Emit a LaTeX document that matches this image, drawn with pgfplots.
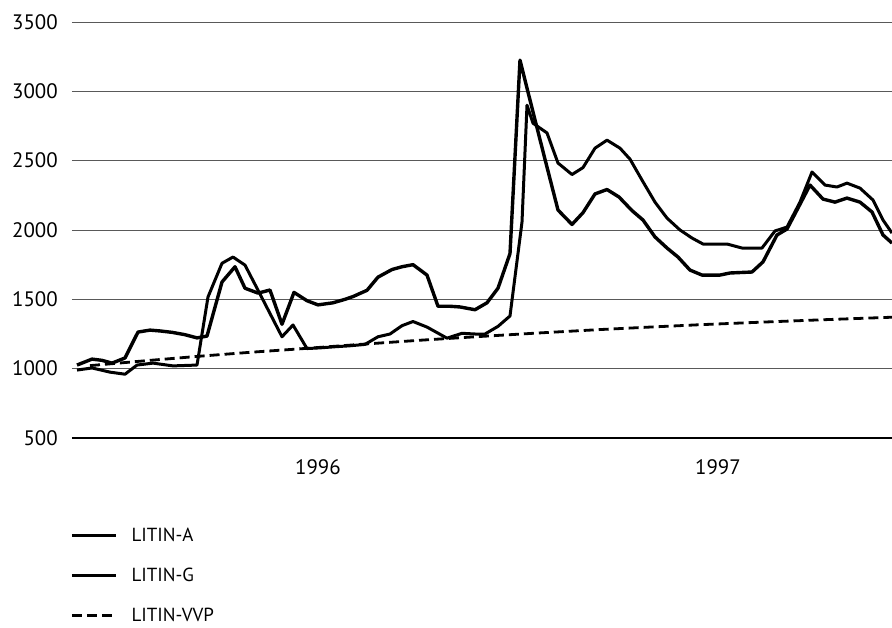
\documentclass[border=0pt]{standalone}
\usepackage{fontspec}
\setmainfont{PT Sans}
\usepackage{pgfplots}
\pgfplotsset{compat=1.18}

\pgfplotstableread{
x y
77 1026
92 1069
102 1060
112 1040
125 1077
138 1264
150 1278
160 1272
172 1262
185 1245
197 1222
207 1235
222 1625
235 1735
245 1580
258 1545
270 1567
282 1320
294 1550
307 1490
318 1460
333 1475
345 1500
353 1520
367 1565
378 1660
392 1715
402 1735
413 1750
427 1675
438 1450
450 1450
460 1445
475 1425
487 1475
498 1580
510 1830
520 3225
532 2880
545 2510
558 2144
572 2040
583 2125
595 2260
607 2292
619 2238
632 2140
643 2072
655 1950
667 1870
678 1805
690 1711
702 1675
720 1675
730 1690
752 1697
763 1770
777 1964
787 2007
798 2158
810 2324
823 2223
835 2201
847 2230
860 2201
872 2130
883 1964
892 1906
}\litina

\pgfplotstableread{
x y
77 990
92 1005
110 975
125 960
137 1026
153 1040
173 1020
197 1026
208 1517
222 1760
233 1805
245 1747
257 1580
282 1230
293 1315
307 1145
320 1150
335 1158
350 1165
365 1175
378 1230
390 1250
402 1310
413 1340
427 1300
447 1220
462 1255
475 1250
485 1250
498 1305
510 1380
522 2057
527 2900
533 2770
547 2700
558 2483
572 2400
583 2450
595 2590
607 2648
620 2590
630 2511
642 2360
655 2201
667 2086
680 2000
692 1942
703 1899
727 1899
742 1870
762 1870
775 1993
787 2021
800 2201
812 2418
825 2324
837 2310
847 2338
860 2302
873 2216
883 2072
892 1978
}\liting

\pgfplotstableread{
x y
90 1022
150 1060
200 1090
250 1118
300 1143
360 1175
420 1205
480 1232
540 1258
600 1282
650 1300
700 1317
760 1335
820 1352
892 1371
}\litinvvp

\begin{document}
\begin{tikzpicture}
\begin{axis}[
  at={(0,0)}, anchor=origin,
  scale only axis,
  width=820bp, height=416bp,
  xmin=72, xmax=892,
  ymin=500, ymax=3500,
  ytick={500,1000,...,3500},
  xtick={318,718},
  xticklabels={1996,1997},
  separate axis lines,
  axis x line*=bottom,
  axis y line*=left,
  y axis line style={draw=none},
  x axis line style={line width=2.8bp, -},
  major tick length=0pt,
  ymajorgrids=true,
  grid style={black!65, line width=0.9bp},
  /pgf/number format/assume math mode=true,
  /pgf/number format/1000 sep={},
  tick label style={font=\fontsize{21}{24}\selectfont},
  yticklabel style={anchor=east, inner sep=0pt, xshift=-14bp},
  xticklabel style={anchor=north, inner sep=0pt, yshift=-21bp},
  legend style={at={(axis description cs:-0.0024,-0.2153)}, anchor=north west,
    draw=none, fill=none, inner sep=0pt, row sep=25bp,
    font=\fontsize{19}{22}\selectfont,
    nodes={inner sep=0pt},
    /tikz/every odd column/.append style={column sep=14bp}},
  legend cell align=left,
  legend image code/.code={\draw[#1] (0bp,0bp) -- (44bp,0bp);},
]
  \addplot[black, line width=3.4bp, line join=round] table {\litina};
  \addlegendentry{LITIN-A}
  \addplot[black, line width=3.0bp, line join=round] table {\liting};
  \addlegendentry{LITIN-G}
  \addplot[black, line width=2.8bp, dash pattern=on 10bp off 5bp] table {\litinvvp};
  \addlegendentry{LITIN-VVP}
\end{axis}
\pgfresetboundingbox
\useasboundingbox (-72bp,-190bp) rectangle (820bp,438bp);
\end{tikzpicture}
\end{document}
